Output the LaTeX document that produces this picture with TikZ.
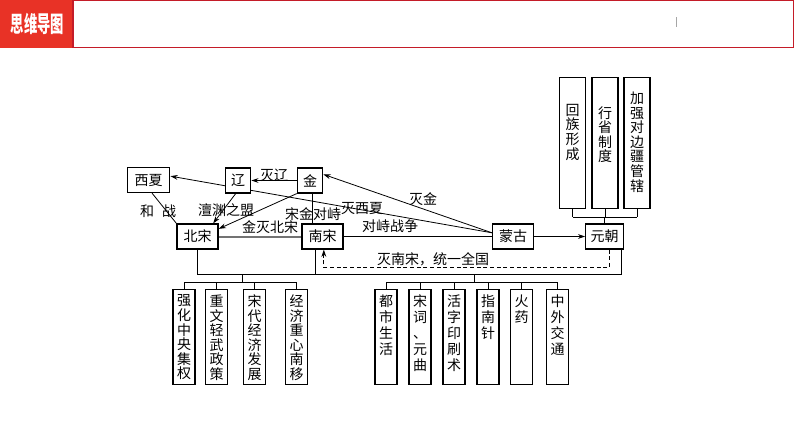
\documentclass[tikz,border=0pt]{standalone}
\usepackage{fontspec}
\setmainfont{Noto Sans CJK SC}
\usetikzlibrary{arrows.meta}
\usetikzlibrary{calc}

\definecolor{hdred}{RGB}{232,50,38}
\definecolor{hdline}{RGB}{196,28,40}

\pgfdeclarelayer{bg}
\pgfsetlayers{bg,main}

\tikzset{
  box/.style={draw, fill=white, line width=0.9pt, inner sep=0pt, minimum width=30.75pt, minimum height=18.75pt, font=\fontsize{10.5}{12}\selectfont},
  onebox/.style={box, minimum width=19pt},
  colbox/.style={draw, fill=white, line width=0.9pt, inner sep=0pt, anchor=north},
  lab/.style={inner sep=0pt, font=\fontsize{10.5}{12}\selectfont},
  link/.style={line width=0.6pt},
  arr/.style={link, -{Stealth[length=5.5pt,width=3.6pt]}},
}
% width, height, line step, top pad, text
\newcommand{\colt}[5]{\parbox[c][#2][t]{#1}{\centering\fontsize{10.5}{#3}\selectfont\vspace*{#4}#5}}

\begin{document}
\begin{tikzpicture}[x=0.75pt, y=-0.75pt]
\useasboundingbox (0,0) rectangle (794,447);

% header
\fill[hdred] (0,0) rectangle (73,48);
\draw[hdline, line width=1pt] (73,0.7) rectangle (793.3,47.5);
\node[text=white, font=\fontsize{10.5}{12}\selectfont\bfseries] (title) at (37.5,24) {\scalebox{0.95}[1.6]{思维导图}};
\draw[black!35, line width=0.6pt] (676,17) -- (676,27);

% states
\node[box, minimum width=32pt] (xixia) at (148.5,180) {西夏};
\node[onebox] (liao) at (238,180.5) {辽};
\node[onebox] (jin) at (310,180.5) {金};
\node[box] (beisong) at (197.5,236.5) {北宋};
\node[box] (nansong) at (322.5,236.5) {南宋};
\node[box] (menggu) at (513,236.5) {蒙古};
\node[box, minimum width=28pt] (yuan) at (604.5,236.5) {元朝};

% yuan
\node[colbox] (huizu) at (572.5,77) {\colt{19.5pt}{98.25pt}{10.9pt}{20pt}{回\\族\\形\\成}};
\node[colbox] (xingsheng) at (605,77) {\colt{19.5pt}{98.25pt}{10.9pt}{21.5pt}{行\\省\\制\\度}};
\node[colbox] (jiaqiang) at (637,77) {\colt{19.5pt}{98.25pt}{10.9pt}{11pt}{加\\强\\对\\边\\疆\\管\\辖}};

% song, left
\foreach \i/\x/\t in {1/184/强\\化\\中\\央\\集\\权, 2/216.5/重\\文\\轻\\武\\政\\策,
    3/254.5/宋\\代\\经\\济\\发\\展, 4/296.5/经\\济\\重\\心\\南\\移}
  \node[colbox] (l\i) at (\x,289) {\colt{16.5pt}{71.25pt}{10.9pt}{4pt}{\t}};

% song and yuan, right
\foreach \i/\x/\t in {1/386/都\\市\\生\\活, 2/420/宋\\词\\、\\元\\曲, 3/454/活\\字\\印\\刷\\术,
    4/488/指\\南\\针, 5/521.5/火\\药, 6/557.5/中\\外\\交\\通}
  \node[colbox] (r\i) at (\x,289) {\colt{16.5pt}{71.25pt}{12pt}{4pt}{\t}};

% labels
\node[lab] (lbml) at (274,175) {灭辽};
\node[lab] (lbmj) at (423,199) {灭金};
\node[lab] (lbmx) at (362,209) {灭西夏};
\node[lab] (lbcy) at (226,210) {澶渊之盟};
\node[lab] (lbjb) at (270,227.5) {金灭北宋};
\node[lab] (lbsj) at (313,214) {宋金对峙};
\node[lab] (lbdz) at (390,226) {对峙战争};
\node[lab] (lbmn) at (433,259) {灭南宋，统一全国};
\node[lab] (lbhe) at (147,211) {和};
\node[lab] (lbzh) at (169,211) {战};

\coordinate (tbar) at (0,217);
\coordinate (bus) at (0,274);
\coordinate (lstem) at (242,282);
\coordinate (rstem) at (474,282);

\begin{pgfonlayer}{bg}
\draw[arr] (menggu.170) -- (xixia.10);
\draw[arr] (menggu.170) -- (jin.25);
\draw[arr] (jin.west) -- (liao.east);
\draw[arr] (liao.-100) -- (beisong.40);
\draw[arr] (jin.south west) -- (beisong.20);
\draw[link] (xixia.-75) -- (beisong.north west);
\draw[line width=1.5pt, black!55] (beisong.east) -- (nansong.west);
\draw[link] ([xshift=2pt]jin.south) -- ([xshift=2pt]jin.south |- nansong.north);
\draw[link] (nansong.east) -- (menggu.west);
\draw[arr] (menggu.east) -- (yuan.west);
\draw[arr, dash pattern=on 3pt off 2pt] ([xshift=3.5pt]yuan.south) -- ++(0,18) -| ([xshift=1pt]nansong.south);

% yuan bracket
\draw[link] (yuan.north) -- (yuan.north |- tbar);
\draw[link] (huizu.south |- tbar) -- (jiaqiang.south |- tbar);
\foreach \b in {huizu, xingsheng, jiaqiang}
  \draw[link] (\b.south) -- (\b.south |- tbar);

% bottom bus
\draw[link] (beisong.south) -- (beisong.south |- bus) -- ([xshift=-1.5pt]yuan.south east |- bus) -- ([xshift=-1.5pt]yuan.south east);
\draw[link] ([xshift=-5pt]nansong.south) -- ([xshift=-5pt]nansong.south |- bus);
\draw[link] (lstem |- bus) -- (lstem);
\draw[link] (rstem |- bus) -- (rstem);
\draw[link] (l1.north |- lstem) -- (l4.north |- lstem);
\draw[link] (r1.north |- rstem) -- (r6.north |- rstem);
\foreach \i in {1,...,4}
  \draw[link] (l\i.north) -- (l\i.north |- lstem);
\foreach \i in {1,...,6}
  \draw[link] (r\i.north) -- (r\i.north |- rstem);
\end{pgfonlayer}

\end{tikzpicture}
\end{document}
